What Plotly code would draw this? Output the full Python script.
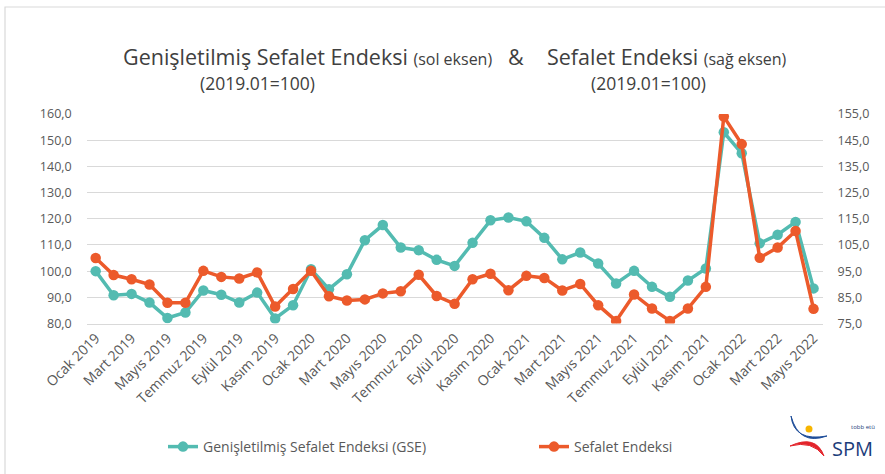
import plotly.graph_objects as go

W, H = 885, 474

months = [
    "Ocak 2019", "Şubat 2019", "Mart 2019", "Nisan 2019", "Mayıs 2019", "Haziran 2019",
    "Temmuz 2019", "Ağustos 2019", "Eylül 2019", "Ekim 2019", "Kasım 2019", "Aralık 2019",
    "Ocak 2020", "Şubat 2020", "Mart 2020", "Nisan 2020", "Mayıs 2020", "Haziran 2020",
    "Temmuz 2020", "Ağustos 2020", "Eylül 2020", "Ekim 2020", "Kasım 2020", "Aralık 2020",
    "Ocak 2021", "Şubat 2021", "Mart 2021", "Nisan 2021", "Mayıs 2021", "Haziran 2021",
    "Temmuz 2021", "Ağustos 2021", "Eylül 2021", "Ekim 2021", "Kasım 2021", "Aralık 2021",
    "Ocak 2022", "Şubat 2022", "Mart 2022", "Nisan 2022", "Mayıs 2022",
]
tick_labels = months[::2]

gse = [
    100.0, 90.8, 91.3, 88.0, 82.1, 84.2, 92.6, 91.0, 88.0, 91.8, 81.9, 87.0,
    100.7, 93.1, 98.8, 111.8, 117.6, 109.0, 108.0, 104.3, 102.0, 110.8, 119.4, 120.5,
    119.0, 112.7, 104.5, 107.1, 102.9, 95.3, 100.1, 94.0, 90.2, 96.4, 101.0, 153.0,
    145.0, 110.6, 113.9, 118.8, 93.4,
]
se = [
    100.0, 93.5, 91.9, 89.9, 82.9, 82.9, 95.1, 92.8, 92.2, 94.5, 81.5, 88.2,
    95.1, 85.4, 83.8, 84.2, 86.5, 87.3, 93.6, 85.5, 82.5, 91.9, 94.0, 87.7,
    93.2, 92.4, 87.6, 90.1, 82.0, 76.0, 86.1, 80.7, 76.0, 80.7, 89.0, 154.0,
    143.5, 100.1, 104.0, 110.3, 80.6,
]

TEAL = "#53BBB1"
ORANGE = "#EC5A2B"
TXT = "#595959"
FONT = "Open Sans, sans-serif"


def px(x):
    return x / W


def py(y):
    return 1 - y / H


fig = go.Figure()
fig.add_trace(go.Scatter(
    x=months, y=gse, name="Genişletilmiş Sefalet Endeksi (GSE)",
    mode="lines+markers", line=dict(color=TEAL, width=3.5),
    marker=dict(color=TEAL, size=10.5), yaxis="y",
))
fig.add_trace(go.Scatter(
    x=months, y=se, name="Sefalet Endeksi",
    mode="lines+markers", line=dict(color=ORANGE, width=3.5),
    marker=dict(color=ORANGE, size=10.5), yaxis="y2",
))

fig.update_layout(
    width=W, height=H,
    margin=dict(l=0, r=0, t=0, b=0, autoexpand=False),
    paper_bgcolor="white", plot_bgcolor="white",
    separators=",.",
    font=dict(family=FONT, color=TXT, size=12),
    showlegend=True,
    legend=dict(
        orientation="h", x=px(163), y=py(447), xanchor="left", yanchor="middle",
        font=dict(size=14, color=TXT), entrywidth=326, entrywidthmode="pixels",
        itemwidth=30, bgcolor="rgba(0,0,0,0)",
    ),
    xaxis=dict(
        domain=[px(86.7), px(822.5)], type="category", automargin=False,
        range=[-0.5, 40.5], tickmode="array", tickvals=tick_labels, ticktext=tick_labels,
        tickangle=-45, tickfont=dict(size=14, color=TXT), showgrid=False,
        showline=True, linecolor="#D9D9D9", linewidth=1, ticks="",
        anchor="y",
    ),
    yaxis=dict(
        domain=[py(323.5), py(114)], range=[80, 160], dtick=10, tick0=80, automargin=False,
        tickformat=".1f", showgrid=True, gridcolor="#D9D9D9", gridwidth=1.2,
        zeroline=False, tickfont=dict(size=12.5, color=TXT), ticklabelstandoff=14,
    ),
    yaxis2=dict(
        overlaying="y", side="right", range=[75, 155], dtick=10, tick0=75, automargin=False,
        tickformat=".1f", showgrid=False, zeroline=False,
        tickfont=dict(size=12.5, color=TXT), ticklabelstandoff=14,
    ),
)

# outer chart border
fig.add_shape(type="rect", xref="paper", yref="paper",
              x0=px(5), x1=px(900), y0=py(7), y1=py(490),
              line=dict(color="#D9D9D9", width=1.2), layer="below")

TITLE = "#404040"
fig.add_annotation(xref="paper", yref="paper", x=px(121), y=py(57), xanchor="left", yanchor="middle",
                   showarrow=False, font=dict(family=FONT, size=21.5, color=TITLE),
                   text="Genişletilmiş Sefalet Endeksi <span style='font-size:16px'>(sol eksen)</span>")
fig.add_annotation(xref="paper", yref="paper", x=px(516), y=py(57), xanchor="center", yanchor="middle",
                   showarrow=False, font=dict(family=FONT, size=21.5, color=TITLE), text="&")
fig.add_annotation(xref="paper", yref="paper", x=px(545), y=py(57), xanchor="left", yanchor="middle",
                   showarrow=False, font=dict(family=FONT, size=21.5, color=TITLE),
                   text="Sefalet Endeksi <span style='font-size:16px'>(sağ eksen)</span>")
fig.add_annotation(xref="paper", yref="paper", x=px(257), y=py(83), xanchor="center", yanchor="middle",
                   showarrow=False, font=dict(family=FONT, size=17.5, color=TITLE), text="(2019.01=100)")
fig.add_annotation(xref="paper", yref="paper", x=px(648), y=py(83), xanchor="center", yanchor="middle",
                   showarrow=False, font=dict(family=FONT, size=17.5, color=TITLE), text="(2019.01=100)")


# logo (SPM)
def path(points):
    s = ""
    for cmd, pts in points:
        s += cmd + " " + " ".join(f"{px(a):.5f},{py(b):.5f}" for a, b in pts) + " "
    return s.strip()


fig.add_shape(type="path", xref="paper", yref="paper",
              path=path([("M", [(791, 416)]), ("Q", [(794, 442), (827, 436)]),
                         ("Q", [(799, 446), (791, 416)]), ("Z", [])]),
              fillcolor="#1F4E9A", line=dict(color="#1F4E9A", width=1))
fig.add_shape(type="path", xref="paper", yref="paper",
              path=path([("M", [(790, 446)]), ("Q", [(816, 434), (824, 456)]),
                         ("Q", [(812, 440), (790, 446)]), ("Z", [])]),
              fillcolor="#E3242B", line=dict(color="#E3242B", width=1))
fig.add_shape(type="circle", xref="paper", yref="paper",
              x0=px(805.5), x1=px(812.5), y0=py(432.5), y1=py(425.5),
              fillcolor="#F7B500", line=dict(width=0))
fig.add_annotation(xref="paper", yref="paper", x=px(830), y=py(448), xanchor="left", yanchor="middle",
                   showarrow=False, font=dict(family=FONT, size=20, color="#1B3D7A"), text="SPM")
fig.add_annotation(xref="paper", yref="paper", x=px(849), y=py(427), xanchor="left", yanchor="middle",
                   showarrow=False, font=dict(family=FONT, size=6, color="#1B3D7A"), text="tobb etü")

fig.write_html("out.html", post_script="document.body.style.margin='0px';",
               config={"displayModeBar": False})
